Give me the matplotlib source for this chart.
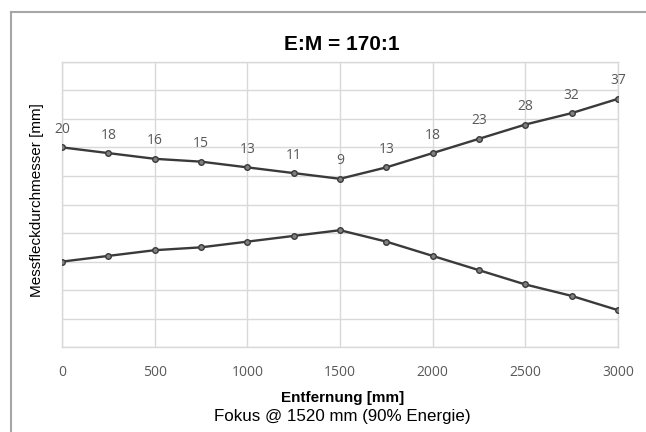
import matplotlib
matplotlib.use('Agg')

from matplotlib import pyplot as plt
from matplotlib.lines import Line2D
import numpy as np

# spot diameter data (mm) over distance (mm)
distance = [0, 250, 500, 750, 1000, 1250, 1500, 1750, 2000, 2250, 2500, 2750, 3000]
spot = [20, 18, 16, 15, 13, 11, 9, 13, 18, 23, 28, 32, 37]
x_ticks = [0, 500, 1000, 1500, 2000, 2500, 3000]
y_grid = [-50, -40, -30, -20, -10, 0, 10, 20, 30, 40, 50]

sans = ['Liberation Sans', 'DejaVu Sans']
label_font = ['Open Sans', 'DejaVu Sans']

fig = plt.figure(figsize=(6.46, 4.32), dpi=100)
ax = fig.add_axes([62 / 646, 1 - 347.3 / 432, 556 / 646, (347.3 - 61.7) / 432])

line_c = '#3a3a3a'
grid_c = '#d9d9d9'

upper = np.array(spot)
lower = -upper
for ys in (upper, lower):
    ax.plot(distance, ys, '-o', color=line_c, lw=1.7, ms=4,
            mfc='#808080', mec=line_c, mew=1.0, zorder=3)

for xv, yv in zip(distance, spot):
    ax.annotate('%d' % yv, (xv, yv), xytext=(0, 13), textcoords='offset points',
                ha='center', va='center', fontsize=10, color='#595959',
                family=label_font)

ax.set_xlim(0, 3000)
ax.set_ylim(-50, 50)
ax.set_xticks(x_ticks)
ax.set_xticklabels(['%d' % t for t in x_ticks], family=label_font,
                   fontsize=10, color='#595959')
ax.set_yticks(y_grid)
ax.set_yticklabels([])
ax.tick_params(length=0, pad=13)
ax.grid(True, color=grid_c, lw=1.0)
ax.set_axisbelow(True)
for spine in ax.spines.values():
    spine.set_color(grid_c)
    spine.set_linewidth(1.0)

fig.text(342 / 646, 1 - 44 / 432, 'E:M = 170:1', ha='center', va='center',
         fontsize=15, fontweight='bold', family=sans)
fig.text(37 / 646, 1 - 200 / 432, 'Messfleckdurchmesser [mm]', ha='center', va='center',
         rotation=90, fontsize=11, family=sans)
fig.text(343 / 646, 1 - 398 / 432, 'Entfernung [mm]', ha='center', va='center',
         fontsize=11, fontweight='bold', family=sans)
fig.text(342 / 646, 1 - 417 / 432, 'Fokus @ 1520 mm (90% Energie)', ha='center', va='center',
         fontsize=12.2, family=sans)

# outer frame (left and top edges)
fig.add_artist(Line2D([11 / 646, 11 / 646], [0, 1 - 12 / 432], color='#a6a6a6', lw=1.5))
fig.add_artist(Line2D([11 / 646, 1], [1 - 12 / 432, 1 - 12 / 432], color='#a6a6a6', lw=1.5))

fig.savefig('out.png', dpi=100)
